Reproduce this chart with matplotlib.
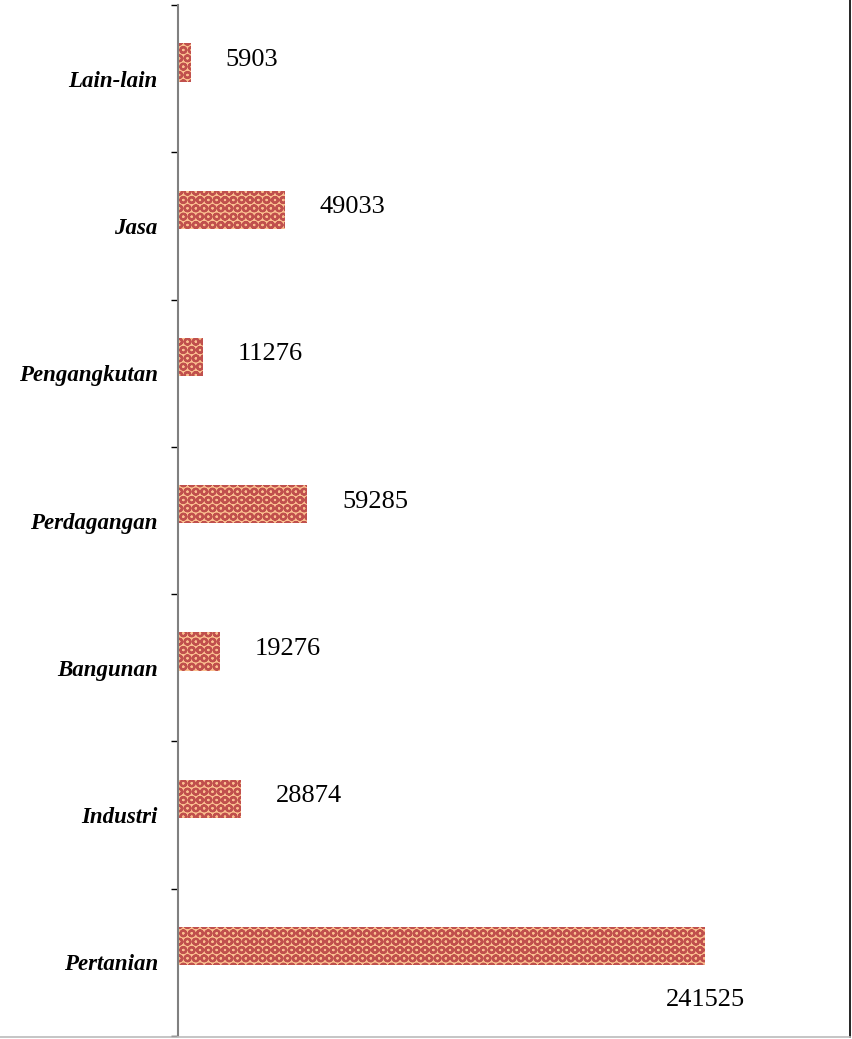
import matplotlib
matplotlib.use("Agg")
import matplotlib.pyplot as plt
from matplotlib.lines import Line2D
import numpy as np

# data (bottom to top)
sektor = ["Pertanian", "Industri", "Bangunan", "Perdagangan",
          "Pengangkutan", "Jasa", "Lain-lain"]
jumlah = [241525, 28874, 19276, 59285, 11276, 49033, 5903]

plt.rcParams['font.family'] = ['Liberation Serif', 'DejaVu Serif']
plt.rcParams['hatch.linewidth'] = 1.6

fig = plt.figure(figsize=(8.52, 10.39), dpi=100)
W, H = 852, 1039
ax = fig.add_axes([178 / W, 1 - 1036 / H, 655 / W, 1031 / H])

y = np.arange(len(sektor))
bars = ax.barh(y + 0.11, jumlah, height=0.26, color='#FBC08F',
               edgecolor='#C0504D', linewidth=0, hatch='OO')

for i, (b, v) in enumerate(zip(bars, jumlah)):
    yc = b.get_y() + b.get_height() / 2
    if i == 0:
        ax.annotate(str(v), (v, yc), xytext=(0, -39), textcoords='offset points',
                    ha='center', va='center', fontsize=19)
    else:
        ax.annotate(str(v), (v, yc), xytext=(25, 2), textcoords='offset points',
                    ha='left', va='center', fontsize=19)

ax.set_xlim(0, 300000)
ax.set_ylim(-0.5, len(sektor) - 0.5)
ax.set_yticks(y)
ax.set_yticklabels(sektor, fontsize=16.5, fontweight='bold', fontstyle='italic')
ax.set_yticks(np.arange(len(sektor) + 1) - 0.5, minor=True)
ax.tick_params(axis='y', which='major', length=0, pad=14.5)
ax.tick_params(axis='y', which='minor', length=5, width=1, color='black')
ax.set_xticks([])
for s in ['top', 'right', 'bottom']:
    ax.spines[s].set_visible(False)
ax.spines['left'].set_color('#808080')
ax.spines['left'].set_linewidth(1.5)

# chart border lines
fig.add_artist(Line2D([850 / W, 850 / W], [1 - 1037 / H, 1], color='black',
                      linewidth=1.2, transform=fig.transFigure))
fig.add_artist(Line2D([0, 850 / W], [1 - 1037 / H, 1 - 1037 / H], color='#BBBBBB',
                      linewidth=1.2, transform=fig.transFigure))

fig.savefig("out.png", dpi=100)
